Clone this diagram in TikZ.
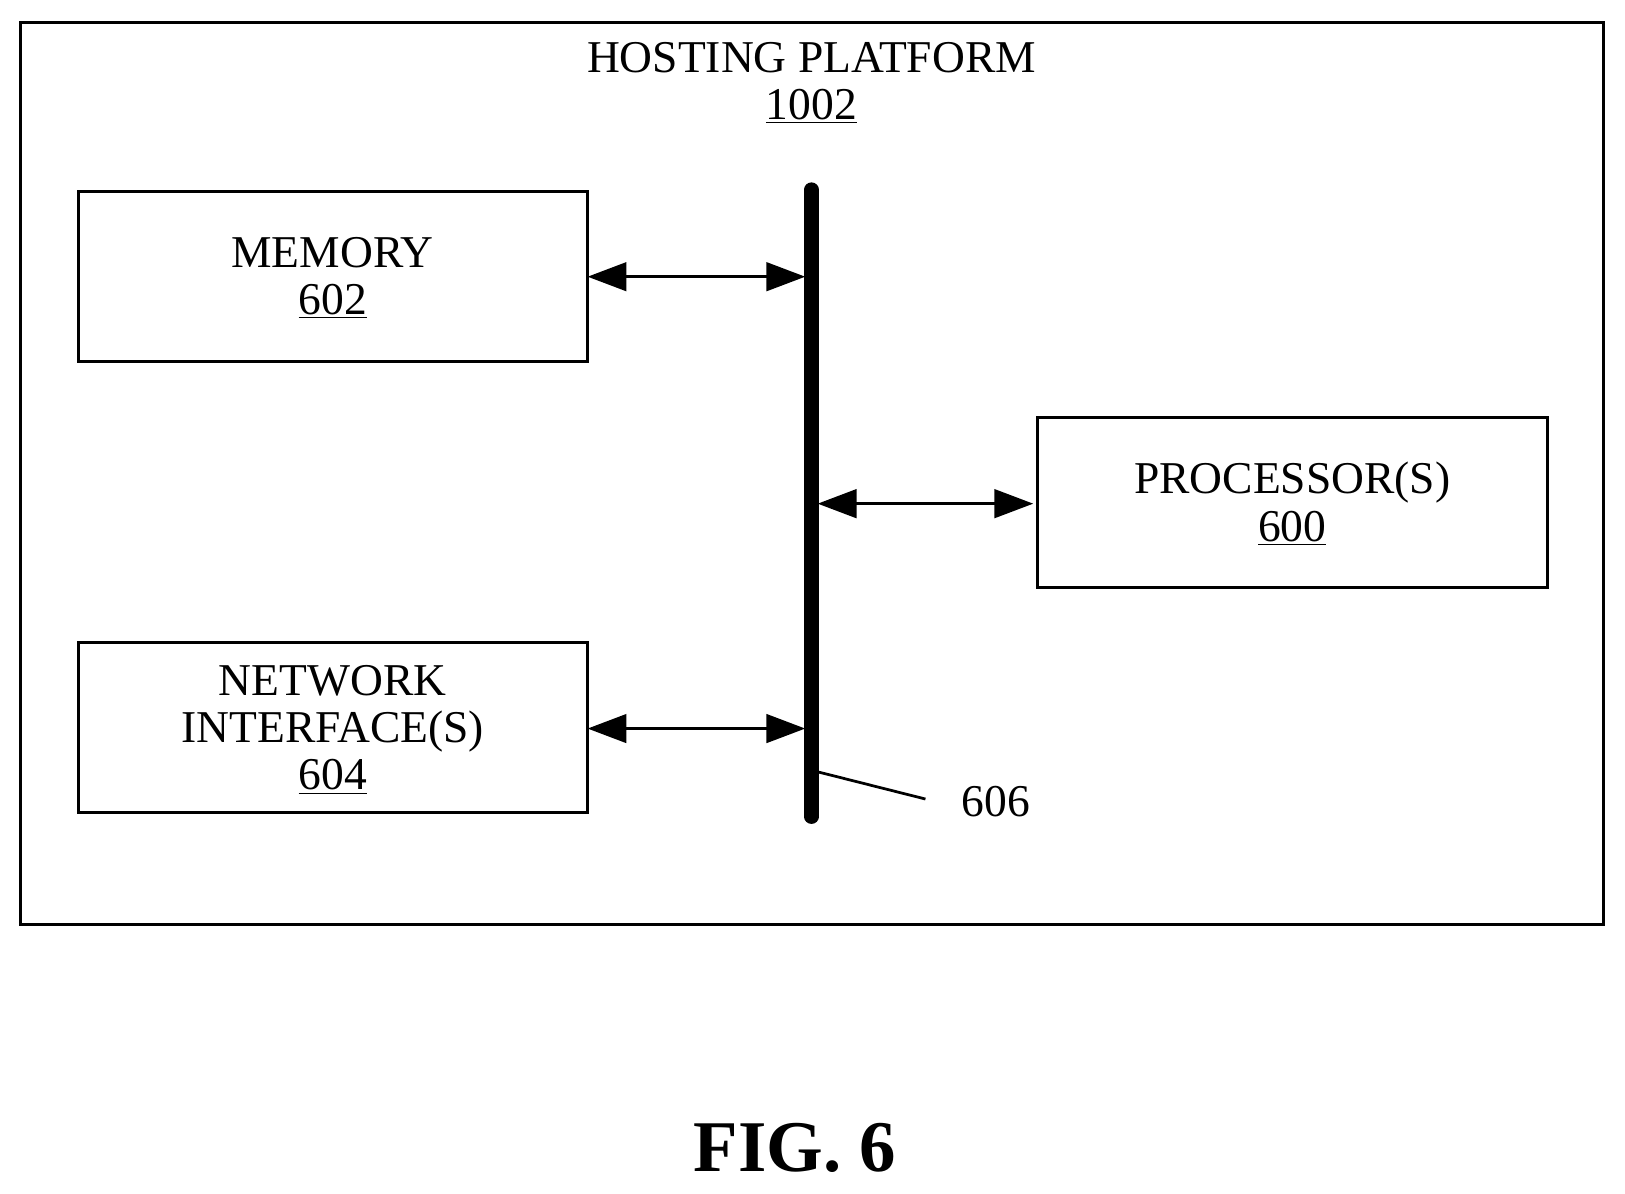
\documentclass[tikz,border=0pt]{standalone}
\usepackage{fontspec}
\setmainfont{Liberation Serif}
\usetikzlibrary{arrows.meta}
\begin{document}
\begin{tikzpicture}[x=0.02cm,y=-0.02cm,
  box/.style={draw,line width=1.7pt},
  lbl/.style={font=\fontsize{25}{26}\selectfont,align=center},
  conn/.style={line width=1.7pt,{Triangle[length=0.75cm,width=0.55cm]}-{Triangle[length=0.75cm,width=0.55cm]}}]
\useasboundingbox (0,0) rectangle (1568,1152);
\draw[box] (20,22) rectangle (1547,892);
\node[lbl] (title) at (783,80) {HOSTING PLATFORM\\\underline{1002}};
\draw[box] (76,185) rectangle (567,349);
\coordinate (memR) at (567,267);
\node[lbl] (mem) at (321,268) {MEMORY\\\underline{602}};
\draw[box] (1001,403) rectangle (1493,567);
\coordinate (procL) at (997,486);
\node[lbl] (proc) at (1247,486) {PROCESSOR(S)\\\underline{600}};
\draw[box] (76,620) rectangle (567,784);
\coordinate (netR) at (567,703);
\node[lbl] (net) at (321,704) {NETWORK\\INTERFACE(S)\\\underline{604}};
\coordinate (busT) at (783,183);
\coordinate (busB) at (783,788);
\draw[line width=8pt,line cap=round] (busT) -- (busB);
\coordinate (b1) at (777,267);
\coordinate (b2) at (789,486);
\coordinate (b3) at (777,703);
\draw[conn] (memR) -- (b1);
\draw[conn] (b2) -- (procL);
\draw[conn] (netR) -- (b3);
\node[lbl,anchor=west] (n606) at (922,773) {606};
\coordinate (lead) at (790,745);
\draw[line width=1.5pt] (lead) -- (893,771);
\node[font=\bfseries\fontsize{40}{48}\selectfont] (fig) at (767,1108) {FIG. 6};
\end{tikzpicture}
\end{document}
